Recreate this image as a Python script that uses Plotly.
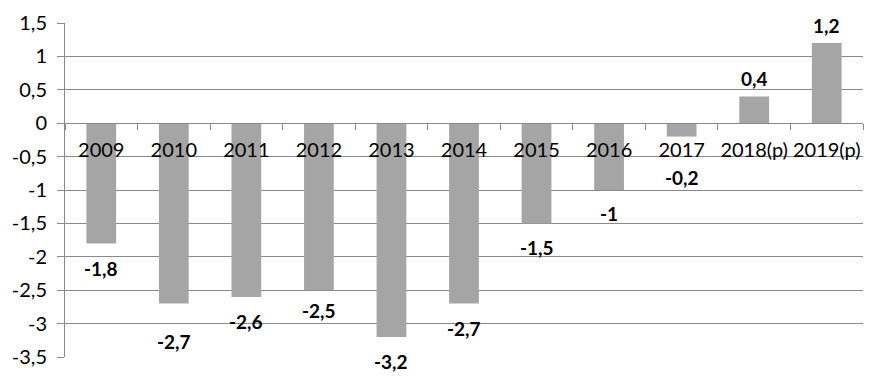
import plotly.graph_objects as go

categories = ["2009", "2010", "2011", "2012", "2013", "2014", "2015", "2016", "2017", "2018(p)", "2019(p)"]
values = [-1.8, -2.7, -2.6, -2.5, -3.2, -2.7, -1.5, -1.0, -0.2, 0.4, 1.2]
label_texts = ["-1,8", "-2,7", "-2,6", "-2,5", "-3,2", "-2,7", "-1,5", "-1", "-0,2", "0,4", "1,2"]
y_tickvals = [1.5, 1, 0.5, 0, -0.5, -1, -1.5, -2, -2.5, -3, -3.5]
y_ticktext = ["1,5", "1", "0,5", "0", "-0,5", "-1", "-1,5", "-2", "-2,5", "-3", "-3,5"]

# pixel offsets of data labels from bar ends (style)
label_shift = [-25, -38, -25, -20, -25, -25, -24, -23, -41, 18, 18]

FONT = "Lato, Carlito, Calibri, sans-serif"
GRID = "#898989"
ymin, ymax = -3.5, 1.5

fig = go.Figure()
fig.add_trace(go.Bar(
    x=categories, y=values,
    marker=dict(color="#A5A5A5", line=dict(width=0)),
    width=0.41,
    hoverinfo="skip",
))

# category index used for annotation x (numeric-looking names would be read as indices)
for i, (v, t, s) in enumerate(zip(values, label_texts, label_shift)):
    fig.add_annotation(
        x=i, y=v, text="<b>" + t + "</b>", showarrow=False,
        yshift=s, font=dict(family=FONT, size=19, color="#000000"),
        xanchor="center", yanchor="middle",
    )

zero_frac = (0 - ymin) / (ymax - ymin)

fig.update_layout(
    width=886, height=381,
    margin=dict(l=65, r=23, t=23, b=24),
    paper_bgcolor="white", plot_bgcolor="white",
    showlegend=False,
    font=dict(family=FONT, size=20, color="#000000"),
    xaxis=dict(
        type="category",
        categoryorder="array", categoryarray=categories,
        range=[-0.5, len(categories) - 0.5],
        anchor="free", position=zero_frac,
        automargin=False,
        showline=True, linecolor=GRID, linewidth=1,
        ticks="outside", ticklen=6, tickcolor=GRID,
        tickson="boundaries",
        showgrid=False, zeroline=False,
        tickangle=0,
        ticklabelstandoff=9,
        tickfont=dict(family=FONT, size=20, color="#000000"),
    ),
    yaxis=dict(
        range=[ymin, ymax],
        automargin=False,
        tickvals=y_tickvals, ticktext=y_ticktext,
        showgrid=True, gridcolor=GRID, gridwidth=1,
        zeroline=False,
        showline=True, linecolor=GRID, linewidth=1,
        ticks="outside", ticklen=7, tickcolor=GRID,
        ticklabelstandoff=6,
        tickfont=dict(family=FONT, size=20, color="#000000"),
    ),
)

fig.write_html("out.html")
